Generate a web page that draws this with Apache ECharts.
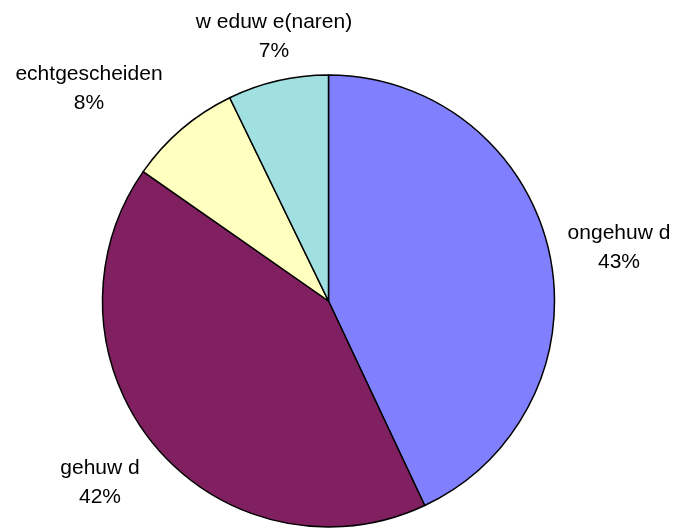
<!DOCTYPE html>
<html>
<head>
<meta charset="utf-8">
<script src="https://cdn.jsdelivr.net/npm/echarts@6/dist/echarts.min.js"></script>
<style>
html,body{margin:0;padding:0;background:#fff;}
#c{width:677px;height:532px;}
</style>
</head>
<body>
<div id="c"></div>
<script>
// Data
const categories = ['ongehuw d', 'gehuw d', 'echtgescheiden', 'w eduw e(naren)'];
const values = [43.0, 41.7, 8.1, 7.2];
const colors = ['#8080FF', '#802060', '#FFFFC0', '#A0E0E0'];

// Label anchor positions (layout only)
const labelPos = [[619, 247.5], [100, 482.5], [89, 88.5], [274, 36.5]];

const chart = echarts.init(document.getElementById('c'), null, {renderer: 'canvas'});
chart.setOption({
  animation: false,
  backgroundColor: '#ffffff',
  series: [{
    type: 'pie',
    center: [328.5, 301],
    radius: 226,
    startAngle: 90,
    clockwise: true,
    percentPrecision: 0,
    avoidLabelOverlap: false,
    itemStyle: {borderColor: '#000000', borderWidth: 1.5},
    label: {
      show: true,
      position: 'outside',
      formatter: '{b}\n{d}%',
      fontFamily: '"Liberation Sans", Arial, sans-serif',
      fontSize: 21,
      lineHeight: 29,
      color: '#000000',
      align: 'center'
    },
    labelLine: {show: false},
    labelLayout: function (p) {
      const pos = labelPos[p.dataIndex];
      return {x: pos[0], y: pos[1], align: 'center', verticalAlign: 'middle'};
    },
    emphasis: {disabled: true},
    data: categories.map((c, i) => ({name: c, value: values[i], itemStyle: {color: colors[i]}}))
  }]
});
</script>
</body>
</html>
